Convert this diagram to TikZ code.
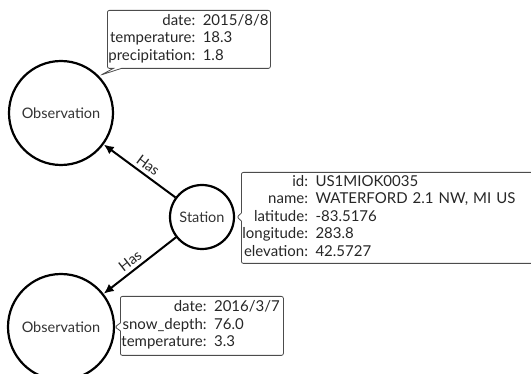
\documentclass[tikz,border=0pt]{standalone}
\usepackage{fontspec}
\setmainfont{Lato}
\usetikzlibrary{shapes.callouts,arrows.meta}

\begin{document}
\begin{tikzpicture}[x=1pt, y=-1pt, thick,
    main/.style = {draw, circle, line width=2.2pt, text=black!80, font=\fontsize{14.5}{16}\selectfont, inner sep=0pt},
    props/.style = {rectangle callout, draw=black!70, line width=0.8pt, rounded corners=2pt,
        anchor=north west, inner xsep=1pt, inner ysep=0pt, align=left, text=black!85,
        font=\fontsize{15}{17.5}\selectfont, callout pointer width=8pt},
    rel/.style = {-{Latex[length=10pt,width=9pt]}, line width=2pt},
    lbl/.style = {sloped, above, text=black!85, font=\fontsize{14.5}{16}\selectfont, inner sep=3.5pt}]
        \useasboundingbox (0,0) rectangle (531,374);
        \clip (0,0) rectangle (531,374);

        \node[main, minimum size=104pt] (obs_1) at (61,113) {Observation};
        \node[main, minimum size=64pt] (st) at (202,217) {Station};
        \node[main, minimum size=106pt] (obs_2) at (61,327) {Observation};

        \coordinate (p_1) at (101,75);
        \coordinate (p_2) at (237,217);
        \coordinate (p_3) at (115,327);

        \node[props, text width=161pt, minimum height=58pt, callout absolute pointer={(p_1)}] (c_1) at (107,10)
            {\begin{tabular}{@{}r@{ }l@{}}date: & 2015/8/8\\ temperature: & 18.3\\ precipitation: & 1.8\end{tabular}};
        \node[props, text width=320pt, minimum height=91pt, callout absolute pointer={(p_2)}] (c_2) at (241,172)
            {\begin{tabular}{@{}r@{ }l@{}}id: & US1MIOK0035\\ name: & WATERFORD 2.1 NW, MI US\\ latitude: & -83.5176\\ longitude: & 283.8\\ elevation: & 42.5727\end{tabular}};
        \node[props, text width=161pt, minimum height=59pt, callout absolute pointer={(p_3)}] (c_3) at (120,296)
            {\begin{tabular}{@{}r@{ }l@{}}date: & 2016/3/7\\ snow\_depth: & 76.0\\ temperature: & 3.3\end{tabular}};

        \draw[rel] (st) -- node[lbl, pos=0.46] {Has} (obs_1);
        \draw[rel] (st) -- node[lbl, pos=0.55] {Has} (obs_2);
    \end{tikzpicture}
\end{document}
